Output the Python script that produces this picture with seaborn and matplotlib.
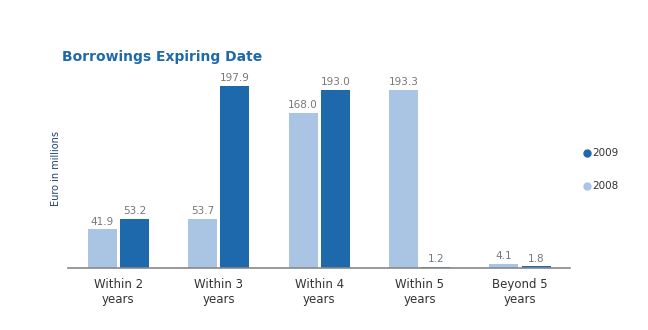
import matplotlib
matplotlib.use("Agg")
import matplotlib.pyplot as plt
from matplotlib.lines import Line2D
import seaborn as sns
import pandas as pd

categories = ["Within 2\nyears", "Within 3\nyears", "Within 4\nyears", "Within 5\nyears", "Beyond 5\nyears"]
values_2008 = [41.9, 53.7, 168.0, 193.3, 4.1]
values_2009 = [53.2, 197.9, 193.0, 1.2, 1.8]
years = ["2008", "2009"]

LIGHT = "#aac4e3"
DARK = "#1e69ac"

df = pd.DataFrame({
    "category": categories * 2,
    "year": [years[0]] * len(categories) + [years[1]] * len(categories),
    "value": values_2008 + values_2009,
})

sns.set_style("white")
plt.rcParams["font.family"] = ["DejaVu Sans"]

fig = plt.figure(figsize=(6.48, 3.30), dpi=100)
ax = fig.add_axes([0.105, 0.188, 0.775, 0.60])

sns.barplot(data=df, x="category", y="value", hue="year", order=categories,
            hue_order=years, palette={"2008": LIGHT, "2009": DARK},
            width=0.64, gap=0.1, ax=ax, legend=False, saturation=1,
            linewidth=0)

for cont in ax.containers:
    ax.bar_label(cont, fmt="%.1f", padding=2, fontsize=7.5, color="#777777")

ax.set_xlim(-0.5, 4.5)
ax.set_ylim(0, 215)
ax.set_yticks([])
ax.set_xlabel("")
ax.set_ylabel("Euro in millions", fontsize=7, color="#1f3f73")
ax.yaxis.set_label_coords(-0.015, 0.5)
for s in ["top", "right", "left"]:
    ax.spines[s].set_visible(False)
ax.spines["bottom"].set_color("#888888")
ax.spines["bottom"].set_linewidth(1.2)
ax.tick_params(axis="x", length=0, labelsize=8.5, colors="#333333", pad=7)
for lbl in ax.get_xticklabels():
    lbl.set_linespacing(1.2)

fig.text(0.096, 0.806, "Borrowings Expiring Date", fontsize=10, fontweight="bold",
         color=DARK, ha="left", va="bottom")

handles = [Line2D([0], [0], marker="o", linestyle="", markersize=5, color=DARK),
           Line2D([0], [0], marker="o", linestyle="", markersize=5, color=LIGHT)]
fig.legend(handles, ["2009", "2008"], loc="center left", bbox_to_anchor=(0.885, 0.485),
           frameon=False, fontsize=7.5, handletextpad=0.1, labelspacing=2.2,
           handlelength=0.8, labelcolor="#333333")

fig.savefig("out.png", dpi=100, facecolor="white")
